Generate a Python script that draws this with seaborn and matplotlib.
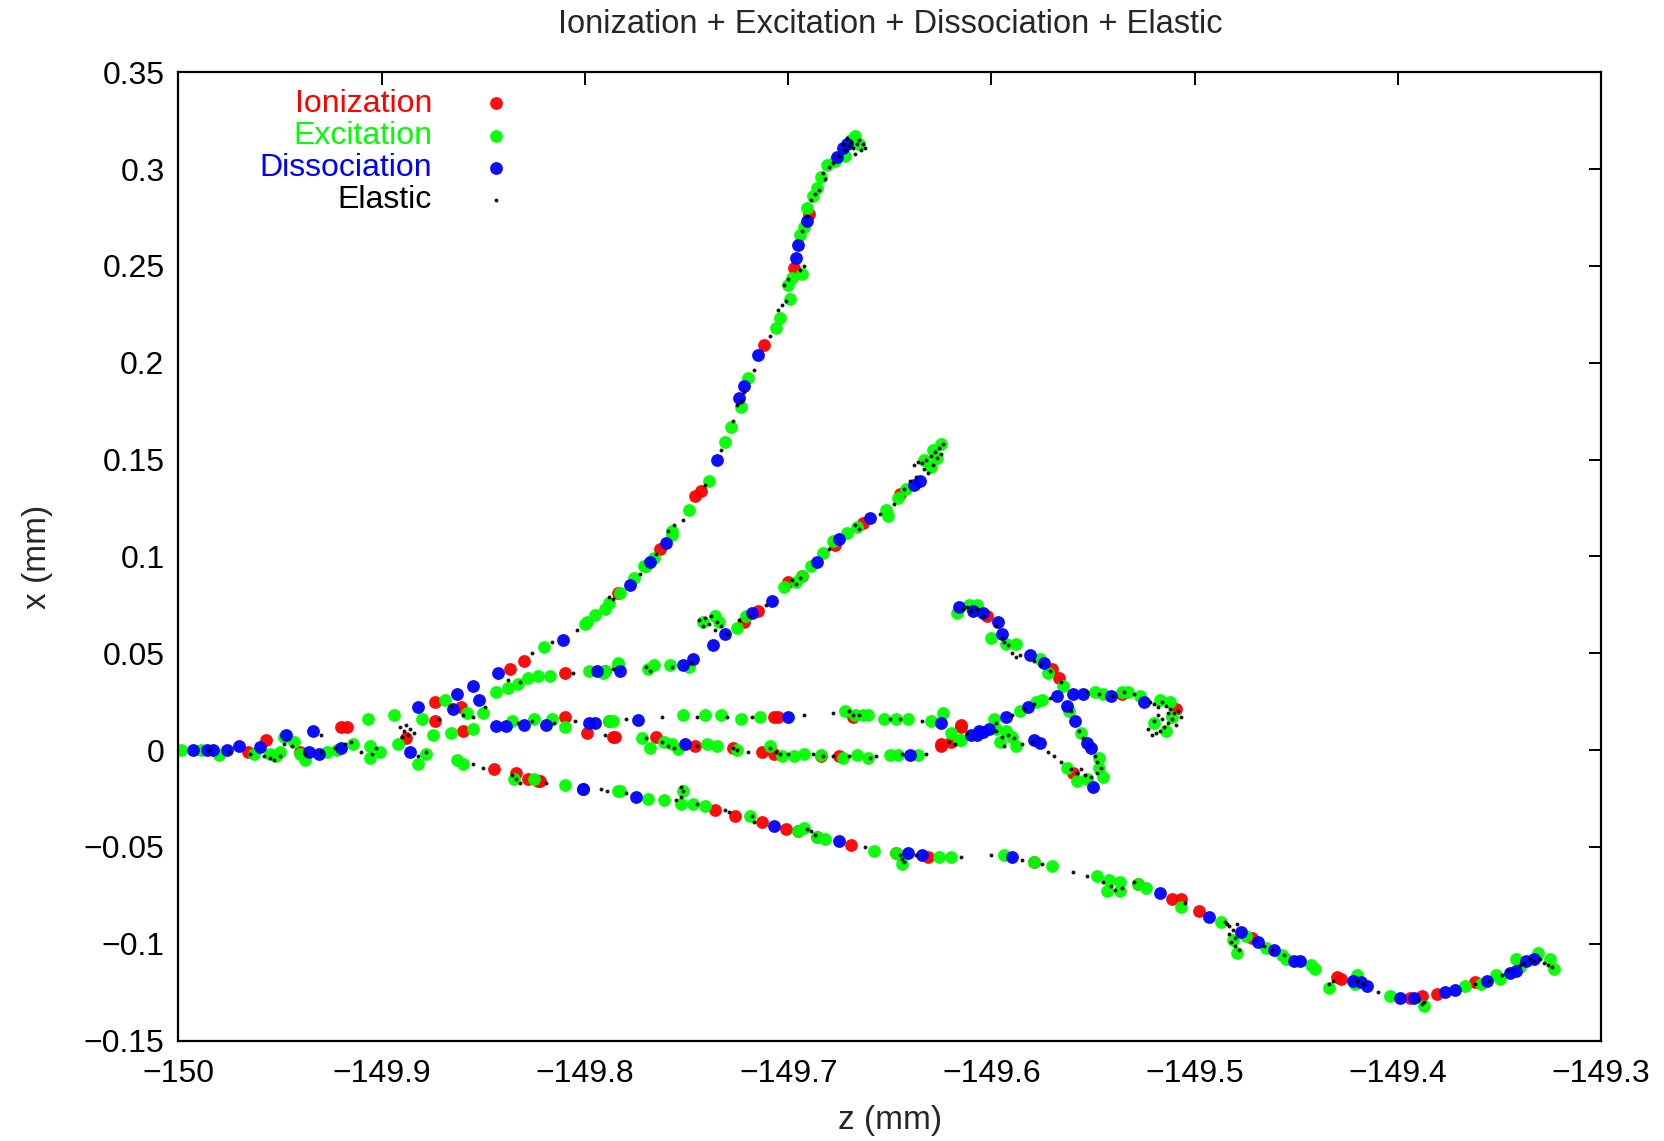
import matplotlib
matplotlib.use("Agg")
import matplotlib.pyplot as plt
import pandas as pd
import seaborn as sns

# (z, x) positions in mm, one list per process
ionization = [
    (-149.966, -0.001), (-149.957, 0.005), (-149.940, -0.001), (-149.920, 0.012),
    (-149.917, 0.012), (-149.888, 0.006), (-149.874, 0.025), (-149.874, 0.015),
    (-149.860, 0.010), (-149.861, 0.022), (-149.837, 0.042), (-149.830, 0.046),
    (-149.810, 0.040), (-149.799, 0.009), (-149.785, 0.007), (-149.845, -0.010),
    (-149.834, -0.012), (-149.828, -0.015), (-149.823, -0.016), (-149.822, -0.016),
    (-149.690, 0.277), (-149.697, 0.249), (-149.712, 0.209), (-149.743, 0.134),
    (-149.746, 0.131), (-149.763, 0.104), (-149.784, 0.081),
    (-149.645, 0.132), (-149.663, 0.117), (-149.677, 0.106), (-149.693, 0.090),
    (-149.700, 0.087), (-149.715, 0.072), (-149.722, 0.066), (-149.790, 0.041),
    (-149.810, 0.017), (-149.788, 0.015), (-149.707, 0.017), (-149.705, 0.017),
    (-149.668, 0.017), (-149.615, 0.013),
    (-149.786, 0.007), (-149.765, 0.007), (-149.746, 0.002), (-149.727, 0.001),
    (-149.713, -0.001), (-149.707, -0.002), (-149.684, -0.003), (-149.675, -0.003),
    (-149.625, 0.002), (-149.620, 0.004), (-149.625, 0.003), (-149.615, 0.012),
    (-149.602, 0.069), (-149.570, 0.042), (-149.567, 0.037), (-149.560, -0.012),
    (-149.536, 0.029), (-149.509, 0.021),
    (-149.736, -0.031), (-149.726, -0.034), (-149.713, -0.037), (-149.701, -0.041),
    (-149.695, -0.042), (-149.686, -0.045), (-149.669, -0.049), (-149.647, -0.053),
    (-149.631, -0.055), (-149.579, -0.058), (-149.528, -0.069), (-149.511, -0.077),
    (-149.507, -0.077), (-149.498, -0.083), (-149.472, -0.097), (-149.430, -0.117),
    (-149.428, -0.118), (-149.394, -0.128), (-149.388, -0.127), (-149.381, -0.126),
    (-149.362, -0.120),
]

excitation = [
    (-149.999, 0.000), (-149.989, 0.000), (-149.980, -0.0025), (-149.963, -0.002),
    (-149.955, -0.002), (-149.950, -0.001), (-149.952, -0.003), (-149.948, 0.007),
    (-149.943, 0.004), (-149.940, -0.002), (-149.938, -0.005), (-149.927, -0.001),
    (-149.922, 0.000), (-149.914, 0.003), (-149.907, 0.016), (-149.906, 0.002),
    (-149.906, -0.004), (-149.901, -0.001), (-149.894, 0.018), (-149.892, 0.003),
    (-149.882, -0.007), (-149.878, -0.002), (-149.880, 0.016), (-149.875, 0.008),
    (-149.869, 0.026), (-149.858, 0.019), (-149.850, 0.019), (-149.844, 0.030),
    (-149.838, 0.032), (-149.833, 0.034), (-149.828, 0.037), (-149.823, 0.038),
    (-149.817, 0.038), (-149.820, 0.053), (-149.799, 0.066), (-149.798, 0.041),
    (-149.791, 0.040), (-149.784, 0.045), (-149.866, 0.009), (-149.855, 0.011),
    (-149.863, -0.005), (-149.860, -0.007), (-149.835, -0.015), (-149.825, -0.015),
    (-149.810, -0.018), (-149.784, -0.021),
    (-149.836, 0.015), (-149.825, 0.016), (-149.816, 0.016), (-149.810, 0.012),
    (-149.786, 0.015),
    (-149.669, 0.315), (-149.665, 0.313), (-149.667, 0.317), (-149.672, 0.307),
    (-149.677, 0.304), (-149.681, 0.302), (-149.684, 0.296), (-149.686, 0.290),
    (-149.688, 0.286), (-149.691, 0.280), (-149.692, 0.270), (-149.694, 0.266),
    (-149.693, 0.246), (-149.698, 0.244), (-149.700, 0.240), (-149.699, 0.233),
    (-149.704, 0.223), (-149.706, 0.218), (-149.720, 0.192), (-149.723, 0.177),
    (-149.728, 0.167), (-149.731, 0.159), (-149.739, 0.139), (-149.749, 0.124),
    (-149.757, 0.111), (-149.757, 0.113), (-149.766, 0.099), (-149.770, 0.095),
    (-149.771, 0.095), (-149.776, 0.089), (-149.783, 0.081), (-149.788, 0.076),
    (-149.790, 0.073), (-149.795, 0.070), (-149.800, 0.065),
    (-149.625, 0.158), (-149.629, 0.155), (-149.627, 0.151), (-149.633, 0.150),
    (-149.630, 0.146), (-149.642, 0.135), (-149.646, 0.130), (-149.652, 0.124),
    (-149.651, 0.121), (-149.666, 0.115), (-149.671, 0.112), (-149.678, 0.108),
    (-149.683, 0.102), (-149.689, 0.095), (-149.693, 0.090), (-149.696, 0.087),
    (-149.702, 0.084), (-149.721, 0.069), (-149.725, 0.063), (-149.736, 0.069),
    (-149.742, 0.066), (-149.734, 0.066), (-149.790, 0.041), (-149.784, 0.044),
    (-149.769, 0.042), (-149.766, 0.044), (-149.758, 0.044), (-149.749, 0.043),
    (-149.788, 0.015), (-149.752, 0.018), (-149.741, 0.018), (-149.733, 0.018),
    (-149.723, 0.016), (-149.714, 0.017), (-149.672, 0.020), (-149.667, 0.018),
    (-149.663, 0.018), (-149.661, 0.018), (-149.653, 0.016), (-149.647, 0.016),
    (-149.641, 0.016), (-149.630, 0.015), (-149.624, 0.019),
    (-149.772, 0.006), (-149.768, 0.001), (-149.761, 0.004), (-149.757, 0.003),
    (-149.754, 0.0005), (-149.740, 0.003), (-149.735, 0.002), (-149.725, 0.000),
    (-149.709, 0.002), (-149.703, -0.003), (-149.697, -0.003), (-149.692, -0.002),
    (-149.684, -0.0025), (-149.673, -0.004), (-149.666, -0.0025), (-149.661, -0.004),
    (-149.650, -0.0025), (-149.646, -0.0025), (-149.636, -0.0025), (-149.615, 0.005),
    (-149.620, 0.009), (-149.599, 0.016), (-149.586, 0.020), (-149.578, 0.025),
    (-149.575, 0.026),
    (-149.617, 0.071), (-149.611, 0.075), (-149.607, 0.075), (-149.600, 0.058),
    (-149.593, 0.055), (-149.588, 0.055), (-149.576, 0.047), (-149.572, 0.040),
    (-149.565, 0.033), (-149.562, 0.020), (-149.556, 0.009), (-149.547, -0.004),
    (-149.547, -0.009), (-149.545, -0.014), (-149.553, -0.015), (-149.558, -0.016),
    (-149.563, -0.009), (-149.588, 0.002), (-149.590, 0.007), (-149.593, 0.010),
    (-149.598, 0.011), (-149.596, 0.004), (-149.616, 0.005),
    (-149.549, 0.030), (-149.545, 0.029), (-149.536, 0.030), (-149.533, 0.030),
    (-149.527, 0.028), (-149.517, 0.026), (-149.512, 0.025), (-149.511, 0.017),
    (-149.514, 0.010), (-149.520, 0.014),
    (-149.783, -0.021), (-149.769, -0.025), (-149.761, -0.026), (-149.752, -0.021),
    (-149.753, -0.028), (-149.747, -0.028), (-149.741, -0.029), (-149.719, -0.034),
    (-149.695, -0.042), (-149.692, -0.040), (-149.686, -0.045), (-149.682, -0.046),
    (-149.658, -0.052), (-149.647, -0.053), (-149.644, -0.055), (-149.644, -0.059),
    (-149.626, -0.055), (-149.620, -0.055),
    (-149.594, -0.054), (-149.579, -0.058), (-149.570, -0.060), (-149.548, -0.065),
    (-149.542, -0.067), (-149.537, -0.068), (-149.543, -0.073), (-149.537, -0.073),
    (-149.528, -0.069), (-149.524, -0.071), (-149.507, -0.081), (-149.487, -0.089),
    (-149.481, -0.098), (-149.479, -0.105), (-149.475, -0.096), (-149.465, -0.102),
    (-149.457, -0.106), (-149.455, -0.108),
    (-149.443, -0.111), (-149.441, -0.113), (-149.434, -0.123), (-149.420, -0.116),
    (-149.421, -0.121), (-149.404, -0.127), (-149.387, -0.132), (-149.367, -0.122),
    (-149.359, -0.121), (-149.352, -0.116), (-149.350, -0.118), (-149.340, -0.112),
    (-149.342, -0.108), (-149.331, -0.105), (-149.325, -0.108), (-149.323, -0.113),
]

dissociation = [
    (-149.993, 0.000), (-149.986, 0.000), (-149.983, 0.000), (-149.976, 0.000),
    (-149.970, 0.002), (-149.960, 0.0015), (-149.947, 0.008), (-149.936, -0.001),
    (-149.931, -0.002), (-149.934, 0.010), (-149.920, 0.001), (-149.886, -0.001),
    (-149.882, 0.022), (-149.865, 0.021), (-149.863, 0.029), (-149.855, 0.033),
    (-149.852, 0.026), (-149.843, 0.040), (-149.811, 0.057), (-149.794, 0.041),
    (-149.801, -0.020),
    (-149.844, 0.0125), (-149.839, 0.0125), (-149.830, 0.013), (-149.819, 0.013),
    (-149.798, 0.014), (-149.795, 0.014), (-149.774, 0.0155), (-149.700, 0.017),
    (-149.625, 0.014), (-149.607, 0.008), (-149.604, 0.0095), (-149.601, 0.011),
    (-149.610, 0.008), (-149.606, 0.010), (-149.593, 0.017), (-149.582, 0.022),
    (-149.568, 0.028), (-149.751, 0.003), (-149.640, -0.0025),
    (-149.671, 0.313), (-149.673, 0.311), (-149.676, 0.306), (-149.691, 0.273),
    (-149.695, 0.261), (-149.696, 0.254), (-149.715, 0.204), (-149.722, 0.188),
    (-149.724, 0.182), (-149.735, 0.150), (-149.760, 0.107), (-149.768, 0.097),
    (-149.778, 0.085),
    (-149.635, 0.139), (-149.638, 0.137), (-149.660, 0.120), (-149.675, 0.109),
    (-149.686, 0.097), (-149.708, 0.077), (-149.718, 0.071), (-149.731, 0.060),
    (-149.737, 0.054), (-149.783, 0.041), (-149.752, 0.044), (-149.747, 0.047),
    (-149.616, 0.074), (-149.609, 0.072), (-149.604, 0.071), (-149.597, 0.066),
    (-149.595, 0.060), (-149.581, 0.049), (-149.574, 0.045), (-149.563, 0.023),
    (-149.559, 0.015), (-149.553, 0.0035), (-149.551, 0.001), (-149.550, -0.019),
    (-149.576, 0.0035), (-149.579, 0.005),
    (-149.560, 0.029), (-149.555, 0.029), (-149.541, 0.028), (-149.525, 0.025),
    (-149.801, -0.020), (-149.775, -0.024), (-149.707, -0.039), (-149.675, -0.047),
    (-149.641, -0.053), (-149.634, -0.054), (-149.590, -0.055), (-149.517, -0.074),
    (-149.493, -0.086), (-149.477, -0.094), (-149.469, -0.099), (-149.461, -0.103),
    (-149.451, -0.109), (-149.448, -0.109), (-149.422, -0.119), (-149.418, -0.120),
    (-149.415, -0.122), (-149.399, -0.128), (-149.392, -0.128), (-149.377, -0.125),
    (-149.372, -0.124), (-149.356, -0.119), (-149.345, -0.115), (-149.342, -0.114),
    (-149.337, -0.109), (-149.333, -0.108),
]

elastic = [
    (-149.672, 0.310), (-149.670, 0.312), (-149.668, 0.311), (-149.666, 0.313),
    (-149.664, 0.310), (-149.662, 0.311), (-149.667, 0.308), (-149.669, 0.314),
    (-149.671, 0.316), (-149.673, 0.313), (-149.665, 0.315), (-149.663, 0.313),
    (-149.675, 0.307), (-149.678, 0.303), (-149.680, 0.301), (-149.683, 0.298),
    (-149.682, 0.295), (-149.685, 0.289), (-149.687, 0.287), (-149.689, 0.284),
    (-149.691, 0.276), (-149.693, 0.268), (-149.692, 0.250), (-149.694, 0.248),
    (-149.700, 0.243), (-149.702, 0.240), (-149.701, 0.232), (-149.703, 0.230),
    (-149.705, 0.227), (-149.709, 0.214), (-149.717, 0.196), (-149.722, 0.185),
    (-149.723, 0.180), (-149.725, 0.178), (-149.727, 0.170), (-149.733, 0.155),
    (-149.741, 0.137), (-149.752, 0.119), (-149.756, 0.116), (-149.759, 0.113),
    (-149.765, 0.101), (-149.773, 0.091), (-149.786, 0.078), (-149.788, 0.079),
    (-149.804, 0.062), (-149.816, 0.056), (-149.826, 0.050),
    (-149.624, 0.158), (-149.626, 0.156), (-149.628, 0.154), (-149.627, 0.151),
    (-149.630, 0.152), (-149.632, 0.150), (-149.634, 0.148), (-149.636, 0.149),
    (-149.638, 0.147), (-149.633, 0.145), (-149.629, 0.147), (-149.625, 0.153),
    (-149.631, 0.143), (-149.637, 0.141), (-149.640, 0.139), (-149.643, 0.135),
    (-149.648, 0.127), (-149.655, 0.122), (-149.665, 0.114), (-149.667, 0.116),
    (-149.680, 0.104), (-149.694, 0.089), (-149.696, 0.086), (-149.698, 0.088),
    (-149.711, 0.075), (-149.719, 0.069), (-149.724, 0.067),
    (-149.744, 0.067), (-149.741, 0.068), (-149.738, 0.069), (-149.735, 0.066),
    (-149.733, 0.064), (-149.736, 0.062), (-149.739, 0.065), (-149.742, 0.064),
    (-149.730, 0.060),
    (-149.786, 0.042), (-149.770, 0.043), (-149.768, 0.041), (-149.757, 0.043),
    (-149.748, 0.045), (-149.806, 0.040), (-149.832, 0.035), (-149.838, 0.036),
    (-149.985, 0.000), (-149.975, -0.001), (-149.965, -0.002), (-149.958, -0.003),
    (-149.955, -0.004), (-149.953, -0.005), (-149.950, -0.003), (-149.948, 0.003),
    (-149.944, 0.002), (-149.938, -0.002), (-149.930, -0.001), (-149.923, 0.001),
    (-149.918, 0.003), (-149.915, 0.004), (-149.910, -0.001), (-149.905, -0.002),
    (-149.903, 0.001), (-149.930, 0.008),
    (-149.891, 0.012), (-149.889, 0.010), (-149.887, 0.008), (-149.890, 0.007),
    (-149.888, 0.013), (-149.886, 0.011), (-149.884, 0.009), (-149.882, -0.003),
    (-149.878, -0.001), (-149.872, 0.016), (-149.866, 0.023), (-149.860, 0.018),
    (-149.855, 0.017), (-149.849, 0.022),
    (-149.833, 0.014), (-149.826, 0.015), (-149.815, 0.014), (-149.805, 0.015),
    (-149.780, 0.016), (-149.762, 0.017), (-149.745, 0.017), (-149.730, 0.017),
    (-149.718, 0.017), (-149.692, 0.018), (-149.678, 0.019), (-149.670, 0.020),
    (-149.668, 0.018), (-149.665, 0.018), (-149.650, 0.016), (-149.645, 0.016),
    (-149.634, 0.015),
    (-149.790, 0.008), (-149.770, 0.006), (-149.762, 0.004), (-149.759, 0.002),
    (-149.756, 0.001), (-149.745, 0.002), (-149.727, 0.001), (-149.725, 0.000),
    (-149.720, -0.001), (-149.709, 0.001), (-149.706, -0.001), (-149.704, -0.002),
    (-149.700, -0.002), (-149.688, -0.002), (-149.683, -0.003), (-149.678, -0.003),
    (-149.670, -0.003), (-149.660, -0.004), (-149.657, -0.003), (-149.644, -0.002),
    (-149.632, -0.002), (-149.621, 0.004), (-149.618, 0.003),
    (-149.612, 0.009), (-149.598, 0.014), (-149.590, 0.018), (-149.584, 0.021),
    (-149.579, 0.024), (-149.571, 0.027),
    (-149.614, 0.073), (-149.612, 0.074), (-149.610, 0.072), (-149.607, 0.073),
    (-149.604, 0.069), (-149.598, 0.064), (-149.595, 0.058), (-149.594, 0.056),
    (-149.592, 0.054), (-149.590, 0.050), (-149.588, 0.048), (-149.586, 0.049),
    (-149.579, 0.046), (-149.576, 0.044), (-149.571, 0.041), (-149.566, 0.035),
    (-149.561, 0.020), (-149.557, 0.010), (-149.555, 0.006),
    (-149.549, -0.003), (-149.548, -0.006), (-149.546, -0.009), (-149.548, -0.012),
    (-149.551, -0.014), (-149.554, -0.013), (-149.556, -0.010), (-149.558, -0.012),
    (-149.561, -0.010), (-149.566, -0.006), (-149.569, -0.003), (-149.572, -0.001),
    (-149.580, 0.004), (-149.585, 0.003), (-149.589, 0.006), (-149.592, 0.008),
    (-149.595, 0.007), (-149.594, 0.002), (-149.598, 0.010),
    (-149.553, 0.030), (-149.547, 0.029), (-149.540, 0.028), (-149.535, 0.030),
    (-149.530, 0.029), (-149.522, 0.025),
    (-149.520, 0.024), (-149.518, 0.022), (-149.516, 0.025), (-149.514, 0.023),
    (-149.512, 0.021), (-149.510, 0.019), (-149.508, 0.020), (-149.511, 0.016),
    (-149.513, 0.014), (-149.515, 0.012), (-149.517, 0.010), (-149.519, 0.009),
    (-149.521, 0.008), (-149.523, 0.011), (-149.520, 0.015), (-149.518, 0.018),
    (-149.516, 0.016), (-149.513, 0.019), (-149.509, 0.013), (-149.507, 0.017),
    (-149.855, -0.007), (-149.850, -0.009), (-149.836, -0.013), (-149.834, -0.015),
    (-149.832, -0.017), (-149.819, -0.017), (-149.792, -0.020), (-149.789, -0.021),
    (-149.780, -0.022), (-149.755, -0.026), (-149.753, -0.024), (-149.752, -0.021),
    (-149.753, -0.019), (-149.745, -0.028), (-149.731, -0.031), (-149.729, -0.032),
    (-149.718, -0.034), (-149.717, -0.037), (-149.689, -0.042), (-149.691, -0.041),
    (-149.687, -0.044), (-149.662, -0.050), (-149.645, -0.054), (-149.644, -0.056),
    (-149.643, -0.058), (-149.637, -0.054), (-149.615, -0.055), (-149.600, -0.054),
    (-149.585, -0.057), (-149.575, -0.059), (-149.560, -0.063), (-149.553, -0.065),
    (-149.545, -0.068), (-149.541, -0.070), (-149.539, -0.072), (-149.536, -0.071),
    (-149.530, -0.068), (-149.505, -0.079), (-149.485, -0.089), (-149.483, -0.091),
    (-149.481, -0.093), (-149.483, -0.095), (-149.480, -0.097), (-149.482, -0.099),
    (-149.480, -0.101), (-149.478, -0.103), (-149.484, -0.090), (-149.479, -0.090),
    (-149.466, -0.101), (-149.462, -0.103), (-149.456, -0.106), (-149.434, -0.121),
    (-149.432, -0.119), (-149.420, -0.119), (-149.417, -0.121), (-149.410, -0.125),
    (-149.390, -0.129), (-149.388, -0.131), (-149.387, -0.130), (-149.362, -0.121),
    (-149.355, -0.119), (-149.349, -0.116), (-149.346, -0.114), (-149.340, -0.111),
    (-149.338, -0.110), (-149.335, -0.108), (-149.333, -0.109), (-149.330, -0.108),
    (-149.328, -0.110), (-149.326, -0.111), (-149.324, -0.112),
]

processes = ["Ionization", "Excitation", "Dissociation", "Elastic"]
colours = {"Ionization": "#ff0000", "Excitation": "#00ff00",
           "Dissociation": "#0000ff", "Elastic": "#000000"}
z_ticks = [-150, -149.9, -149.8, -149.7, -149.6, -149.5, -149.4, -149.3]
z_labels = ["\u2212150", "\u2212149.9", "\u2212149.8", "\u2212149.7",
            "\u2212149.6", "\u2212149.5", "\u2212149.4", "\u2212149.3"]
x_ticks = [0.35, 0.3, 0.25, 0.2, 0.15, 0.1, 0.05, 0, -0.05, -0.1, -0.15]
x_labels = ["0.35", "0.3", "0.25", "0.2", "0.15", "0.1", "0.05", "0",
            "\u22120.05", "\u22120.1", "\u22120.15"]

frames = []
for name, pts in zip(processes, [ionization, excitation, dissociation, elastic]):
    f = pd.DataFrame(pts, columns=["z", "x"])
    f["process"] = name
    frames.append(f)
df = pd.concat(frames, ignore_index=True)

sns.set_style("white")
plt.rcParams["font.family"] = ["Liberation Sans", "DejaVu Sans"]

fig = plt.figure(figsize=(16.65, 11.41), dpi=100)
ax = fig.add_axes([0.1072, 0.0880, 0.8545, 0.8487])

for name in processes:
    sub = df[df["process"] == name]
    big = name != "Elastic"
    sns.scatterplot(data=sub, x="z", y="x", ax=ax, color=colours[name],
                    s=85 if big else 8, linewidth=0, alpha=0.95 if big else 0.9,
                    label=name, legend=True)

ax.set_xlim(-150, -149.3)
ax.set_ylim(-0.15, 0.35)
ax.set_xticks(z_ticks)
ax.set_xticklabels(z_labels)
ax.set_yticks(x_ticks)
ax.set_yticklabels(x_labels)
ax.tick_params(direction="in", length=9, width=1.4, top=True, right=True,
               labelsize=23, colors="black")
ax.tick_params(axis="x", pad=13)
ax.tick_params(axis="y", pad=10)
for sp in ax.spines.values():
    sp.set_linewidth(1.6)
    sp.set_color("black")
ax.set_xlabel("z (mm)", fontsize=24, labelpad=12)
ax.set_ylabel("x (mm)", fontsize=24, labelpad=22)
ax.set_title("Ionization + Excitation + Dissociation + Elastic", fontsize=23.5, pad=28)

leg = ax.legend(loc="upper right", bbox_to_anchor=(0.250, 1.006), frameon=False,
                markerfirst=False, fontsize=23, handlelength=1.0,
                handletextpad=1.5, labelspacing=0.07, borderpad=0.2)
for txt, name in zip(leg.get_texts(), processes):
    txt.set_color(colours[name])

fig.savefig("out.png", dpi=100)
